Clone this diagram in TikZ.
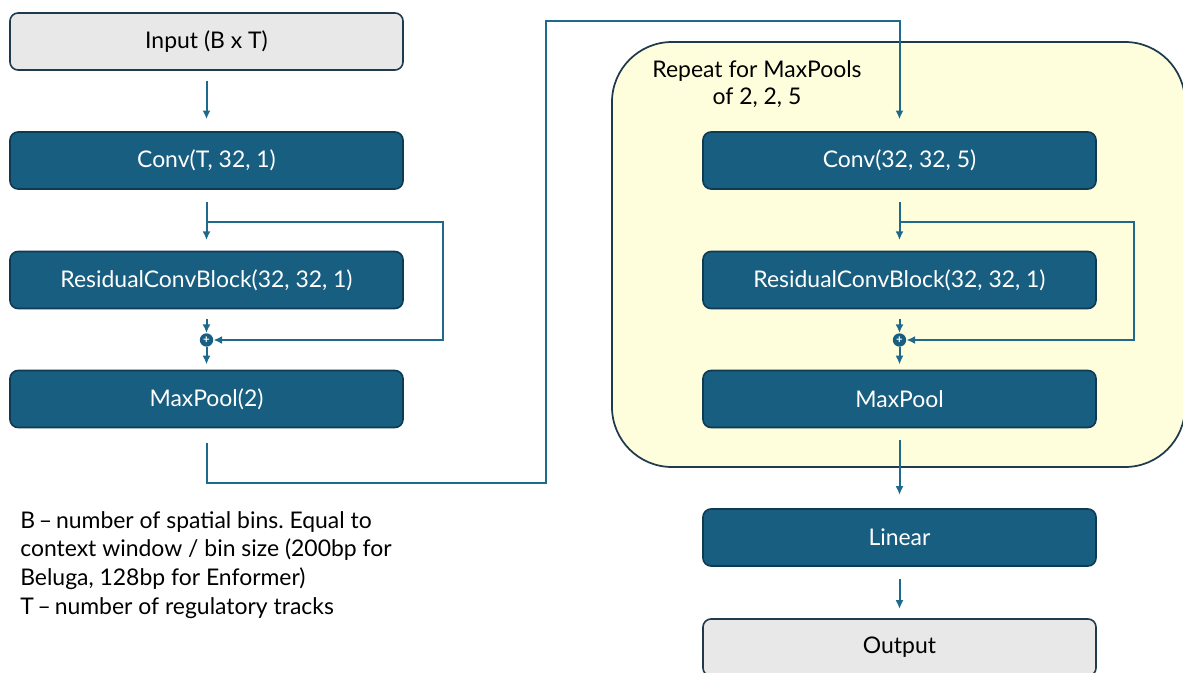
\documentclass[tikz,border=0pt]{standalone}
\usepackage{fontspec}
\setmainfont{Lato}
\usepackage{xcolor}
\usetikzlibrary{arrows.meta,calc}
\frenchspacing

\definecolor{blkfill}{HTML}{185E80}
\definecolor{blkline}{HTML}{0E3A52}
\definecolor{arrcol}{HTML}{1F6A8C}
\definecolor{iofill}{HTML}{E8E8E8}
\definecolor{iolin}{HTML}{1F3A4D}
\definecolor{repfill}{HTML}{FFFEDC}

\tikzset{
  blk/.style={draw=blkline, fill=blkfill, text=white, line width=1.2pt,
    rounded corners=6pt, minimum width=393*0.75pt, minimum height=57*0.75pt,
    font=\fontsize{17.2}{20}\selectfont},
  iobox/.style={blk, draw=iolin, fill=iofill, text=black},
  arr/.style={draw=arrcol, line width=1.5pt, -{Latex[length=6.5pt,width=6pt]}},
  pluscirc/.style={circle, fill=blkfill, inner sep=0pt, minimum size=10pt,
    text=white, font=\fontsize{8.5}{8.5}\bfseries\selectfont},
}

\begin{document}
\begin{tikzpicture}[x=0.75pt,y=-0.75pt]
\useasboundingbox (0,0) rectangle (1183,672);

% repeated block
\draw[draw=iolin, fill=repfill, line width=1.3pt, rounded corners=45pt]
  (612,42) rectangle (1185,467);
\node[align=center, font=\fontsize{17.2}{20.5}\selectfont] (reptxt) at (757,84)
  {Repeat for MaxPools\\of 2, 2, 5};

% left column
\node[iobox] (inp) at (206.5,41.5) {Input (B x T)};
\node[blk] (conv1) at (206.5,160.5) {Conv(T, 32, 1)};
\node[blk] (res1) at (206.5,280) {ResidualConvBlock(32, 32, 1)};
\node[pluscirc] (plus1) at (206.5,340) {+};
\node[blk] (pool1) at (206.5,399) {MaxPool(2)};

% right column
\node[blk] (conv2) at (899.5,160.5) {Conv(32, 32, 5)};
\node[blk] (res2) at (899.5,280) {ResidualConvBlock(32, 32, 1)};
\node[pluscirc] (plus2) at (899.5,340) {+};
\node[blk] (pool2) at (899.5,399) {MaxPool};
\node[blk] (lin) at (899.5,537.5) {Linear};
\node[iobox] (out) at (899.5,647.5) {Output};

\coordinate (sk1) at (443,222);
\coordinate (sk2) at (1134,222);
\coordinate (bendA) at (546,483);
\coordinate (bendB) at (546,21);

\draw[arr, shorten <=8pt, shorten >=9pt] (inp) -- (conv1);
\draw[arr, shorten <=9pt, shorten >=8pt] (conv1) -- (res1);
\draw[arr] (conv1.south |- sk1) -- (sk1) |- (plus1);
\draw[arr, shorten <=7pt] (res1) -- (plus1);
\draw[arr, shorten >=4pt] (plus1) -- (pool1);

\draw[arr] ($(pool1.south)+(0,15)$) |- (bendA) -- (bendB) -| ($(conv2.north)+(0,-12)$);

\draw[arr, shorten <=9pt, shorten >=8pt] (conv2) -- (res2);
\draw[arr] (conv2.south |- sk2) -- (sk2) |- (plus2);
\draw[arr, shorten <=7pt] (res2) -- (plus2);
\draw[arr, shorten >=4pt] (plus2) -- (pool2);
\draw[arr, shorten <=9pt, shorten >=10pt] (pool2) -- (lin);
\draw[arr, shorten <=9pt, shorten >=7pt] (lin) -- (out);

% legend
\node[anchor=north west, align=left, font=\fontsize{17.2}{21.5}\selectfont,
  inner sep=0pt] (legend) at (20,511)
  {B\,--\,number of spatial bins. Equal to\\
   context window / bin size (200bp for\\
   Beluga, 128bp for Enformer)\\
   T\,--\,number of regulatory tracks};
\end{tikzpicture}
\end{document}
